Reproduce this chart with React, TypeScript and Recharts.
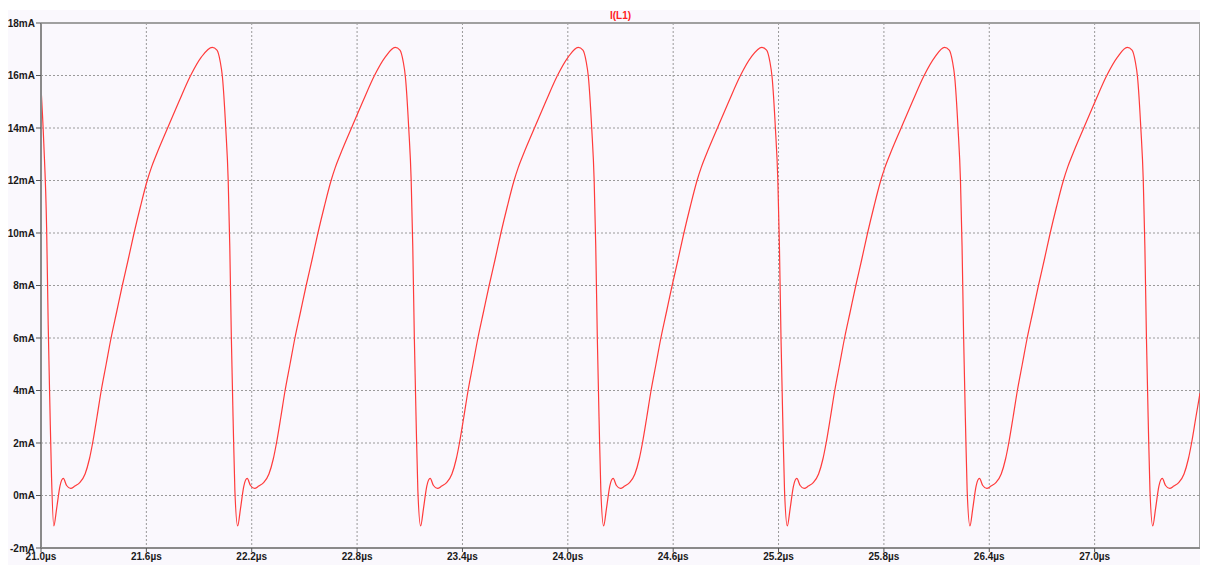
import React from 'react';
import { LineChart, Line, XAxis, YAxis, CartesianGrid, ReferenceLine } from 'recharts';

const segmentStart: [number, number][] = [
  [21.000, 15.55], [21.016, 13.40], [21.032, 10.20], [21.041, 6.50], [21.051, 3.30], [21.060, 0.70],
];

const cycle1: [number, number][] = [
  [21.073, -1.16], [21.089, -0.50], [21.108, 0.36], [21.127, 0.65], [21.146, 0.38], [21.169, 0.27],
  [21.193, 0.36], [21.222, 0.50], [21.251, 0.82], [21.276, 1.40], [21.294, 2.00], [21.319, 3.00],
  [21.343, 4.00], [21.371, 5.00], [21.399, 6.00], [21.431, 7.00], [21.463, 8.00], [21.497, 9.00],
  [21.530, 10.00], [21.566, 11.00], [21.605, 12.00], [21.629, 12.50], [21.658, 13.00], [21.721, 14.00],
  [21.785, 15.00], [21.852, 16.00], [21.913, 16.70],
  [21.975, 17.07], [22.002, 16.97], [22.020, 16.55], [22.033, 15.95], [22.052, 14.00], [22.066, 12.00],
  [22.075, 9.50], [22.084, 6.00], [22.094, 2.90], [22.104, 0.20],
];

const cycle2: [number, number][] = [
  [22.120, -1.16], [22.136, -0.50], [22.155, 0.36], [22.174, 0.65], [22.193, 0.38], [22.216, 0.27],
  [22.240, 0.36], [22.269, 0.50], [22.298, 0.82], [22.323, 1.40], [22.341, 2.00], [22.366, 3.00],
  [22.390, 4.00], [22.418, 5.00], [22.446, 6.00], [22.478, 7.00], [22.510, 8.00], [22.544, 9.00],
  [22.577, 10.00], [22.613, 11.00], [22.652, 12.00], [22.676, 12.50], [22.705, 13.00], [22.768, 14.00],
  [22.832, 15.00], [22.899, 16.00], [22.960, 16.70],
  [23.017, 17.07], [23.044, 16.97], [23.062, 16.55], [23.075, 15.95], [23.094, 14.00], [23.108, 12.00],
  [23.117, 9.50], [23.126, 6.00], [23.136, 2.90], [23.146, 0.20],
];

const cycle3: [number, number][] = [
  [23.162, -1.16], [23.178, -0.50], [23.197, 0.36], [23.216, 0.65], [23.235, 0.38], [23.258, 0.27],
  [23.282, 0.36], [23.311, 0.50], [23.340, 0.82], [23.365, 1.40], [23.383, 2.00], [23.408, 3.00],
  [23.432, 4.00], [23.460, 5.00], [23.488, 6.00], [23.520, 7.00], [23.552, 8.00], [23.586, 9.00],
  [23.619, 10.00], [23.655, 11.00], [23.694, 12.00], [23.718, 12.50], [23.747, 13.00], [23.810, 14.00],
  [23.874, 15.00], [23.941, 16.00], [24.002, 16.70],
  [24.059, 17.07], [24.086, 16.97], [24.104, 16.55], [24.117, 15.95], [24.136, 14.00], [24.150, 12.00],
  [24.159, 9.50], [24.168, 6.00], [24.178, 2.90], [24.188, 0.20],
];

const cycle4: [number, number][] = [
  [24.204, -1.16], [24.220, -0.50], [24.239, 0.36], [24.258, 0.65], [24.277, 0.38], [24.300, 0.27],
  [24.324, 0.36], [24.353, 0.50], [24.382, 0.82], [24.407, 1.40], [24.425, 2.00], [24.450, 3.00],
  [24.474, 4.00], [24.502, 5.00], [24.530, 6.00], [24.562, 7.00], [24.594, 8.00], [24.628, 9.00],
  [24.661, 10.00], [24.697, 11.00], [24.736, 12.00], [24.760, 12.50], [24.789, 13.00], [24.852, 14.00],
  [24.916, 15.00], [24.983, 16.00], [25.044, 16.70],
  [25.105, 17.07], [25.132, 16.97], [25.150, 16.55], [25.163, 15.95], [25.182, 14.00], [25.196, 12.00],
  [25.205, 9.50], [25.214, 6.00], [25.224, 2.90], [25.234, 0.20],
];

const cycle5: [number, number][] = [
  [25.250, -1.16], [25.266, -0.50], [25.285, 0.36], [25.304, 0.65], [25.323, 0.38], [25.346, 0.27],
  [25.370, 0.36], [25.399, 0.50], [25.428, 0.82], [25.453, 1.40], [25.471, 2.00], [25.496, 3.00],
  [25.520, 4.00], [25.548, 5.00], [25.576, 6.00], [25.608, 7.00], [25.640, 8.00], [25.674, 9.00],
  [25.707, 10.00], [25.743, 11.00], [25.782, 12.00], [25.806, 12.50], [25.835, 13.00], [25.898, 14.00],
  [25.962, 15.00], [26.029, 16.00], [26.090, 16.70],
  [26.145, 17.07], [26.172, 16.97], [26.190, 16.55], [26.203, 15.95], [26.222, 14.00], [26.236, 12.00],
  [26.245, 9.50], [26.254, 6.00], [26.264, 2.90], [26.274, 0.20],
];

const cycle6: [number, number][] = [
  [26.290, -1.16], [26.306, -0.50], [26.325, 0.36], [26.344, 0.65], [26.363, 0.38], [26.386, 0.27],
  [26.410, 0.36], [26.439, 0.50], [26.468, 0.82], [26.493, 1.40], [26.511, 2.00], [26.536, 3.00],
  [26.560, 4.00], [26.588, 5.00], [26.616, 6.00], [26.648, 7.00], [26.680, 8.00], [26.714, 9.00],
  [26.747, 10.00], [26.783, 11.00], [26.822, 12.00], [26.846, 12.50], [26.875, 13.00], [26.938, 14.00],
  [27.002, 15.00], [27.069, 16.00], [27.130, 16.70],
  [27.186, 17.07], [27.213, 16.97], [27.231, 16.55], [27.244, 15.95], [27.263, 14.00], [27.277, 12.00],
  [27.286, 9.50], [27.295, 6.00], [27.305, 2.90], [27.315, 0.20],
];

const cycle7: [number, number][] = [
  [27.331, -1.16], [27.347, -0.50], [27.366, 0.36], [27.385, 0.65], [27.404, 0.38], [27.427, 0.27],
  [27.451, 0.36], [27.480, 0.50], [27.509, 0.82], [27.534, 1.40], [27.552, 2.00], [27.577, 3.00],
  [27.600, 3.90],
];

const xTicks = [21.0, 21.6, 22.2, 22.8, 23.4, 24.0, 24.6, 25.2, 25.8, 26.4, 27.0];
const yTicks = [-2, 0, 2, 4, 6, 8, 10, 12, 14, 16, 18];
const xDomain: [number, number] = [21.0, 27.6];
const yDomain: [number, number] = [-2, 18];
const seriesName = 'I(L1)';

const data = [
  ...segmentStart, ...cycle1, ...cycle2, ...cycle3, ...cycle4, ...cycle5, ...cycle6, ...cycle7,
].map(([t, i]) => ({ t, i }));

const tickStyle = { fontFamily: '"Liberation Sans", Arial, sans-serif', fontSize: 10, fontWeight: 'bold', fill: '#1a1a1a' } as const;

export default function App() {
  return (
    <div style={{ marginTop: 2, width: 1200, height: 555, background: '#faf8fd' }}>
      <LineChart width={1200} height={555} data={data} margin={{ top: 13, right: 8, bottom: 0, left: 0 }}>
        <CartesianGrid stroke="#9a9a9a" strokeDasharray="2 2" />
        <XAxis
          type="number"
          dataKey="t"
          domain={xDomain}
          ticks={xTicks}
          allowDataOverflow
          height={17}
          tickSize={4}
          tickMargin={1}
          interval={0}
          tickFormatter={(v: number) => `${v.toFixed(1)}µs`}
          tick={tickStyle}
          stroke="#8a8a8a"
          axisLine={{ stroke: '#8a8a8a', strokeWidth: 2 }}
          tickLine={{ stroke: '#555' }}
        />
        <YAxis
          type="number"
          domain={yDomain}
          ticks={yTicks}
          allowDataOverflow
          width={33}
          tickSize={5}
          tickMargin={1}
          interval={0}
          tickFormatter={(v: number) => `${v}mA`}
          tick={tickStyle}
          axisLine={{ stroke: '#8a8a8a', strokeWidth: 2 }}
          tickLine={{ stroke: '#555' }}
        />
        <ReferenceLine
          y={18}
          stroke="#a0a0a0"
          strokeWidth={2}
          label={{ value: seriesName, position: 'top', offset: 4, fill: '#ff2020', fontSize: 10, fontWeight: 'bold', fontFamily: '"Liberation Sans", Arial, sans-serif' }}
        />
        <ReferenceLine x={27.6} stroke="#a0a0a0" strokeWidth={2} />
        <Line
          type="monotone"
          dataKey="i"
          stroke="#ff3b3b"
          strokeWidth={1.2}
          dot={false}
          isAnimationActive={false}
        />
      </LineChart>
    </div>
  );
}
